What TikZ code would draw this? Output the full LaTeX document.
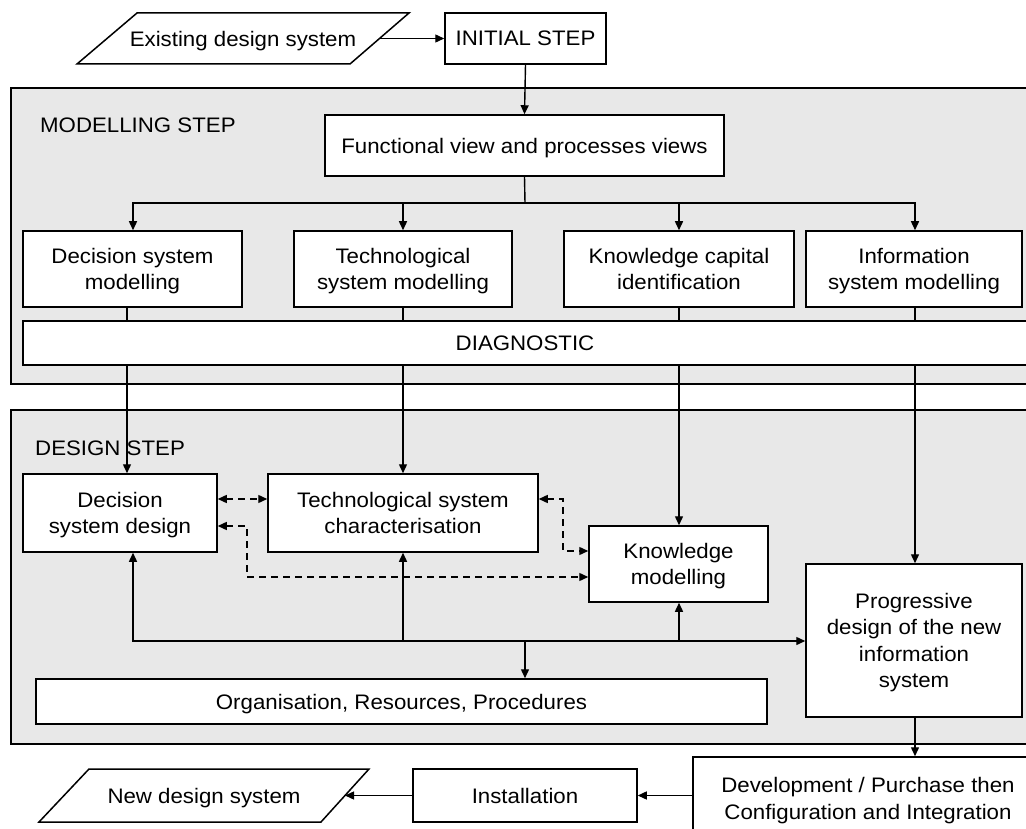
\documentclass[tikz,border=0pt]{standalone}
\usepackage{fontspec}
\setmainfont{Liberation Sans}[FakeStretch=1.06]
\usetikzlibrary{arrows.meta}
\definecolor{panelgray}{RGB}{232,232,232}
\newcommand\dfont{\fontsize{21}{26.5}\selectfont}
\begin{document}
\begin{tikzpicture}[x=1pt,y=-1pt,
  box/.style={draw, fill=white, line width=1.5pt, align=center, inner sep=0pt, text depth=0pt, font=\dfont},
  panel/.style={draw, fill=panelgray, line width=1.6pt},
  para/.style={draw, fill=white, line width=1.5pt},
  lbl/.style={font=\dfont, inner sep=0pt, text depth=0pt},
  conn/.style={line width=1.4pt},
  arr/.style={conn, -{Triangle[length=9pt,width=8pt]}},
  darr/.style={conn, dash pattern=on 7pt off 5pt, {Triangle[length=9pt,width=8pt]}-{Triangle[length=9pt,width=8pt]}},
]
\useasboundingbox (0,0) rectangle (1026,829);
\clip (0,0) rectangle (1026,829);
\fill[white] (0,0) rectangle (1026,829);

% panels
\draw[panel] (11,88) rectangle (1040,384);
\draw[panel] (11,410) rectangle (1040,744);

% parallelograms
\draw[para] (77,64) -- (137,13) -- (409,13) -- (350,64) -- cycle;
\node[lbl] (eds) at (243,38.5) {Existing design system};
\coordinate (edsR) at (379.5,38.5);
\draw[para] (39,822) -- (89,769) -- (369,769) -- (321,822) -- cycle;
\node[lbl] (nds) at (204,795.5) {New design system};
\coordinate (ndsR) at (345,795.5);

% labels
\node[lbl, anchor=base west] (ml) at (40,133) {MODELLING STEP};
\node[lbl, anchor=base west] (dl) at (35,455) {DESIGN STEP};

% boxes
\node[box, minimum width=161, minimum height=51] (init) at (525.5,38.5) {INITIAL STEP};
\node[box, minimum width=399, minimum height=61] (fv) at (524.5,145.5) {Functional view and processes views};
\node[box, minimum width=219, minimum height=76] (dsm) at (132.5,269) {Decision system\\modelling};
\node[box, minimum width=218, minimum height=76] (tsm) at (403,269) {Technological\\system modelling};
\node[box, minimum width=230, minimum height=76] (kci) at (679,269) {Knowledge capital\\identification};
\node[box, minimum width=216, minimum height=76] (ism) at (914,269) {Information\\system modelling};
\node[box, minimum width=1004, minimum height=44] (diag) at (525,343) {DIAGNOSTIC};
\node[box, minimum width=194, minimum height=78] (dsd) at (120,513) {Decision\\system design};
\node[box, minimum width=270, minimum height=78] (tsc) at (403,513) {Technological system\\characterisation};
\node[box, minimum width=179, minimum height=76] (km) at (678.5,564) {Knowledge\\modelling};
\node[box, minimum width=216, minimum height=153] (pd) at (914,640.5) {Progressive\\design of the new\\information\\system};
\node[box, minimum width=731, minimum height=45] (org) at (401.5,701.5) {Organisation, Resources, Procedures};
\node[box, minimum width=350, minimum height=83] (dev) at (868,798.5) {Development / Purchase then\\Configuration and Integration};
\node[box, minimum width=224, minimum height=53] (inst) at (525,795.5) {Installation};

% top connectors
\draw[arr] (edsR) -- (init.west);
\draw[arr] (init.south) -- (fv.north);
\coordinate (bus) at (525,203);
\draw[conn] (fv.south) -- (bus);
\draw[arr] (bus) -| (133,0 |- dsm.north);
\draw[arr] (bus) -| (tsm.north);
\draw[arr] (bus) -| (kci.north);
\draw[arr] (bus) -| (915,0 |- ism.north);

% modelling to diagnostic
\draw[conn] (127,0 |- dsm.south) -- (127,0 |- diag.north);
\draw[conn] (tsm.south) -- (tsm.south |- diag.north);
\draw[conn] (kci.south) -- (kci.south |- diag.north);
\draw[conn] (915,0 |- ism.south) -- (915,0 |- diag.north);

% diagnostic to design
\draw[arr] (127,0 |- diag.south) -- (127,0 |- dsd.north);
\draw[arr] (403,0 |- diag.south) -- (tsc.north);
\draw[arr] (679,0 |- diag.south) -- (679,0 |- km.north);
\draw[arr] (915,0 |- diag.south) -- (915,0 |- pd.north);

% dashed links
\draw[darr] (dsd.east |- 0,499) -- (tsc.west |- 0,499);
\draw[darr] (dsd.east |- 0,526) -- (247,526) -- (247,577) -- (km.west |- 0,577);
\draw[darr] (tsc.east |- 0,499) -- (563,499) -- (563,551) -- (km.west |- 0,551);

% bottom hub
\coordinate (hub) at (525,641);
\draw[arr] (hub) -| (133,0 |- dsd.south);
\draw[arr] (hub) -| (tsc.south);
\draw[arr] (hub) -| (679,0 |- km.south);
\draw[arr] (hub) -- (pd.west |- hub);
\draw[arr] (hub) -- (hub |- org.north);

% bottom chain
\draw[arr] (915,0 |- pd.south) -- (915,0 |- dev.north);
\draw[arr] (dev.west |- inst.east) -- (inst.east);
\draw[arr] (inst.west) -- (ndsR);
\end{tikzpicture}
\end{document}
